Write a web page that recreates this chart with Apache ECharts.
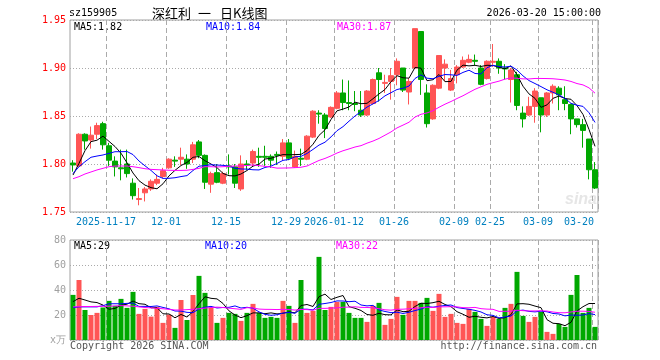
<!DOCTYPE html>
<html><head><meta charset="utf-8">
<script src="https://cdn.jsdelivr.net/npm/echarts@6/dist/echarts.min.js"></script>
<style>html,body{margin:0;padding:0;background:#fff;}#c{width:660px;height:360px;}</style>
</head><body><div id="c"></div>
<script>
// ---------- data ----------
const dates = [
'2025-11-07','2025-11-10','2025-11-11','2025-11-12','2025-11-13','2025-11-14','2025-11-17','2025-11-18','2025-11-19','2025-11-20',
'2025-11-21','2025-11-24','2025-11-25','2025-11-26','2025-11-27','2025-11-28','2025-12-01','2025-12-02','2025-12-03','2025-12-04',
'2025-12-05','2025-12-08','2025-12-09','2025-12-10','2025-12-11','2025-12-12','2025-12-15','2025-12-16','2025-12-17','2025-12-18',
'2025-12-19','2025-12-22','2025-12-23','2025-12-24','2025-12-25','2025-12-26','2025-12-29','2025-12-30','2025-12-31','2026-01-05',
'2026-01-06','2026-01-07','2026-01-08','2026-01-09','2026-01-12','2026-01-13','2026-01-14','2026-01-15','2026-01-16','2026-01-19',
'2026-01-20','2026-01-21','2026-01-22','2026-01-23','2026-01-26','2026-01-27','2026-01-28','2026-01-29','2026-01-30','2026-02-02',
'2026-02-03','2026-02-04','2026-02-05','2026-02-06','2026-02-09','2026-02-10','2026-02-11','2026-02-12','2026-02-13','2026-02-24',
'2026-02-25','2026-02-26','2026-02-27','2026-03-02','2026-03-03','2026-03-04','2026-03-05','2026-03-06','2026-03-09','2026-03-10',
'2026-03-11','2026-03-12','2026-03-13','2026-03-16','2026-03-17','2026-03-18','2026-03-19','2026-03-20'];

const openP = [1.801,1.798,1.831,1.825,1.831,1.842,1.819,1.803,1.796,1.800,
1.780,1.763,1.770,1.774,1.780,1.787,1.796,1.804,1.805,1.805,
1.805,1.823,1.809,1.779,1.791,1.780,1.798,1.797,1.774,1.800,
1.801,1.808,1.808,1.808,1.810,1.808,1.822,1.797,1.806,1.805,
1.828,1.853,1.851,1.849,1.858,1.874,1.864,1.863,1.856,1.851,
1.863,1.895,1.884,1.886,1.893,1.900,1.875,1.900,1.938,1.874,
1.847,1.879,1.900,1.877,1.893,1.901,1.906,1.908,1.900,1.889,
1.906,1.907,1.900,1.888,1.893,1.853,1.851,1.860,1.869,1.851,
1.874,1.879,1.867,1.862,1.847,1.841,1.826,1.794];
const closeP = [1.799,1.831,1.824,1.830,1.840,1.820,1.804,1.797,1.795,1.790,
1.767,1.764,1.774,1.782,1.784,1.793,1.805,1.803,1.807,1.800,
1.820,1.809,1.781,1.790,1.781,1.790,1.797,1.780,1.800,1.799,
1.813,1.807,1.807,1.804,1.809,1.822,1.806,1.808,1.805,1.829,
1.855,1.852,1.837,1.859,1.874,1.864,1.863,1.862,1.851,1.876,
1.888,1.888,1.885,1.892,1.907,1.877,1.886,1.941,1.888,1.842,
1.882,1.913,1.904,1.889,1.901,1.908,1.909,1.907,1.883,1.907,
1.907,1.900,1.899,1.898,1.861,1.847,1.860,1.876,1.851,1.874,
1.881,1.872,1.863,1.847,1.841,1.835,1.794,1.775];
const lowP = [1.792,1.797,1.815,1.816,1.826,1.815,1.798,1.787,1.783,1.786,
1.763,1.757,1.761,1.772,1.778,1.785,1.795,1.797,1.799,1.795,
1.801,1.806,1.774,1.770,1.780,1.779,1.789,1.775,1.772,1.794,
1.797,1.797,1.798,1.796,1.799,1.804,1.804,1.796,1.798,1.804,
1.827,1.842,1.827,1.848,1.857,1.856,1.856,1.855,1.849,1.850,
1.862,1.865,1.874,1.867,1.882,1.875,1.862,1.899,1.872,1.838,
1.846,1.878,1.886,1.876,1.884,1.900,1.905,1.903,1.882,1.888,
1.901,1.894,1.888,1.864,1.856,1.838,1.850,1.843,1.833,1.849,
1.863,1.856,1.856,1.831,1.838,1.817,1.784,1.774];
const highP = [1.804,1.832,1.832,1.839,1.843,1.844,1.822,1.808,1.815,1.815,
1.785,1.775,1.776,1.784,1.789,1.796,1.806,1.808,1.817,1.810,
1.823,1.825,1.810,1.792,1.800,1.792,1.810,1.800,1.809,1.804,
1.815,1.817,1.819,1.810,1.813,1.826,1.826,1.814,1.816,1.830,
1.856,1.856,1.853,1.860,1.876,1.888,1.887,1.876,1.876,1.877,
1.889,1.900,1.893,1.900,1.910,1.900,1.889,1.941,1.938,1.883,
1.883,1.913,1.909,1.898,1.903,1.912,1.914,1.914,1.903,1.908,
1.925,1.910,1.904,1.900,1.896,1.860,1.870,1.879,1.869,1.875,
1.883,1.881,1.881,1.863,1.847,1.847,1.826,1.802];
const volume = [36.1,48,24,20,21.7,26,31.3,27.3,32.9,25.7,
38.5,20.9,24.9,18.7,26.5,13.7,20.3,9.7,32,16,
36,51.3,37.7,25.7,13.7,17.7,21.7,20.9,15.3,21.7,
28.9,21.7,17.7,18.5,17.7,31.3,27.3,13.7,48,21.7,
23.3,66.5,24,26.5,30.5,30.5,21.7,17.7,17.7,14.5,
27.3,29.7,12.1,16.9,34.5,20.1,31.3,31.3,29.7,33.7,
23.3,36.9,18.5,20.9,13.7,12.9,24.9,22.5,16.9,11.3,
18.5,16.9,25.7,28.9,54.5,19.3,14.5,18.5,22.5,6.5,
4.9,12.9,10.5,36.1,52,21.7,25.7,10.5];

// moving-average values before enough history exists
const priceMa5Head = [1.7885,1.8007,1.8139,1.8233];
const priceMa10Head = [1.790,1.7972,1.8024,1.807,1.8083,1.8094,1.8111,1.8128,1.8128];
const priceMa30Head = [1.7847,1.7868,1.7896,1.7917,1.7938,1.7955,1.7972,1.7979,1.7979,1.7979,
1.7972,1.7962,1.7951,1.7944,1.7941,1.7938,1.7935,1.7933,1.7933,1.7935,
1.7944,1.7955,1.7972,1.7972,1.7969,1.7972,1.7976,1.7979,1.798];
const volMa5Head = [30.7,33.4,32,30.5];
const volMa10Head = [25.9,26.5,26.5,26.5,26.5,27.5,29,29,29];
const volMa30Head = [26.5,26.7,26.8,26.8,26.9,27,27,27.3,27.5,27.3,
27,26.5,26,25.7,25.4,25,24.5,24,24,24.3,
24.6,25,25.5,26,26.3,26,25.5,25,24.5];

const xTickIdx = [6,16,26,36,44,54,64,70,78,87];
const xTickText = ['2025-11-17','12-01','12-15','12-29','2026-01-12','01-26','02-09','02-25','03-09','03-20'];
const priceTicks = [1.75,1.80,1.85,1.90,1.95];
const volTicks = [0,20,40,60,80];
const volUnit = 'x万';

// ---------- helpers ----------
function ma(src, n, head) {
  return src.map((_, i) => {
    if (i < n - 1) return head[i];
    let s = 0; for (let k = i - n + 1; k <= i; k++) s += src[k];
    return +(s / n).toFixed(4);
  });
}
const pMa5 = ma(closeP, 5, priceMa5Head), pMa10 = ma(closeP, 10, priceMa10Head), pMa30 = ma(closeP, 30, priceMa30Head);
const vMa5 = ma(volume, 5, volMa5Head), vMa10 = ma(volume, 10, volMa10Head), vMa30 = ma(volume, 30, volMa30Head);
const last = a => a[a.length - 1];

const RED = '#FF5555', GREEN = '#00A800';
const MONO = '"DejaVu Sans Mono", monospace';
const BORDER = '#A0A0A0';
const candles = dates.map((d, i) => [openP[i], closeP[i], lowP[i], highP[i]]);

function xAxisFor(gi, showLabel) {
  return {
    type: 'category', gridIndex: gi, data: dates, boundaryGap: true,
    axisLine: {show: false}, axisTick: {show: false},
    axisLabel: {
      show: showLabel, interval: 0, margin: 5, color: '#0080C0', fontFamily: MONO, fontSize: 10,
      formatter: (v, i) => {
        const k = xTickIdx.indexOf(i);
        if (k < 0) return '';
        return (k === xTickIdx.length - 1 ? '{b|' : '{a|') + xTickText[k] + '}';
      },
      rich: {
        a: {padding: [0, 6, 0, 0], color: '#0080C0', fontFamily: MONO, fontSize: 10},
        b: {padding: [0, 32, 0, 0], color: '#0080C0', fontFamily: MONO, fontSize: 10}
      }
    },
    splitLine: {show: true, interval: (i) => xTickIdx.includes(i), lineStyle: {color: '#AAAAAA', type: [5, 3], width: 1}}
  };
}

function text(t, x, y, color, align, font) {
  return {type: 'text', x: x, y: y, silent: true,
    style: {text: t, fill: color, font: font || ('10px ' + MONO), textAlign: align || 'left', textVerticalAlign: 'middle'}};
}

const chart = echarts.init(document.getElementById('c'), null, {renderer: 'canvas'});
chart.setOption({
  animation: false,
  backgroundColor: '#fff',
  grid: [
    {left: 70, top: 20, width: 528, height: 192, show: true, borderColor: BORDER, borderWidth: 1, backgroundColor: 'transparent'},
    {left: 70, top: 240, width: 528, height: 100, show: true, borderColor: BORDER, borderWidth: 1, backgroundColor: 'transparent'}
  ],
  xAxis: [xAxisFor(0, true), xAxisFor(1, false)],
  yAxis: [
    {type: 'value', gridIndex: 0, min: priceTicks[0], max: priceTicks[priceTicks.length - 1], interval: 0.05,
      axisLine: {show: false}, axisTick: {show: false},
      axisLabel: {color: '#FF0000', fontFamily: MONO, fontSize: 10, margin: 4, formatter: v => v.toFixed(2)},
      splitLine: {show: true, lineStyle: {color: '#AAAAAA', type: [1, 2], width: 1}}},
    {type: 'value', gridIndex: 1, min: volTicks[0], max: volTicks[volTicks.length - 1], interval: 20,
      axisLine: {show: false}, axisTick: {show: false},
      axisLabel: {color: '#A0A0A0', fontFamily: MONO, fontSize: 10, margin: 4, formatter: v => v === 0 ? volUnit : String(v)},
      splitLine: {show: true, lineStyle: {color: '#AAAAAA', type: [1, 2], width: 1}}}
  ],
  series: [
    {type: 'candlestick', xAxisIndex: 0, yAxisIndex: 0, data: candles, barWidth: 5,
      itemStyle: {color: RED, color0: GREEN, borderColor: RED, borderColor0: GREEN, borderWidth: 1}},
    {type: 'line', xAxisIndex: 0, yAxisIndex: 0, data: pMa5, symbol: 'none', lineStyle: {color: '#000', width: 1}},
    {type: 'line', xAxisIndex: 0, yAxisIndex: 0, data: pMa10, symbol: 'none', lineStyle: {color: '#0000FF', width: 1}},
    {type: 'line', xAxisIndex: 0, yAxisIndex: 0, data: pMa30, symbol: 'none', lineStyle: {color: '#FF00FF', width: 1}},
    {type: 'bar', xAxisIndex: 1, yAxisIndex: 1, data: volume, barWidth: 5,
      itemStyle: {color: p => closeP[p.dataIndex] > openP[p.dataIndex] ? RED : GREEN}},
    {type: 'line', xAxisIndex: 1, yAxisIndex: 1, data: vMa5, symbol: 'none', lineStyle: {color: '#000', width: 1}},
    {type: 'line', xAxisIndex: 1, yAxisIndex: 1, data: vMa10, symbol: 'none', lineStyle: {color: '#0000FF', width: 1}},
    {type: 'line', xAxisIndex: 1, yAxisIndex: 1, data: vMa30, symbol: 'none', lineStyle: {color: '#FF00FF', width: 1}}
  ],
  graphic: [
    text('sz159905', 69, 13, '#000'),
    text('深红利', 152, 13, '#000', 'left', '13px "Noto Sans CJK SC"'),
    text('一', 198, 13, '#000', 'left', '13px "Noto Sans CJK SC"'),
    text('日K线图', 220, 13, '#000', 'left', '13px "Noto Sans CJK SC"'),
    text('2026-03-20 15:00:00', 601, 13, '#000', 'right'),
    text('MA5:' + last(pMa5).toFixed(2), 74, 27, '#000'),
    text('MA10:' + last(pMa10).toFixed(2), 206, 27, '#0000FF'),
    text('MA30:' + last(pMa30).toFixed(2), 337, 27, '#FF00FF'),
    text('MA5:' + Math.round(last(vMa5)), 74, 246, '#000'),
    text('MA10:' + Math.round(last(vMa10)), 205, 246, '#0000FF'),
    text('MA30:' + Math.round(last(vMa30)), 336, 246, '#FF00FF'),
    text('sina', 565, 200, '#E6E6E6', 'left', 'italic bold 16px Arial, sans-serif'),
    text('Copyright 2026 SINA.COM', 70, 346, '#555'),
    text('http://finance.sina.com.cn', 597, 346, '#555', 'right')
  ]
});
</script>
</body></html>
